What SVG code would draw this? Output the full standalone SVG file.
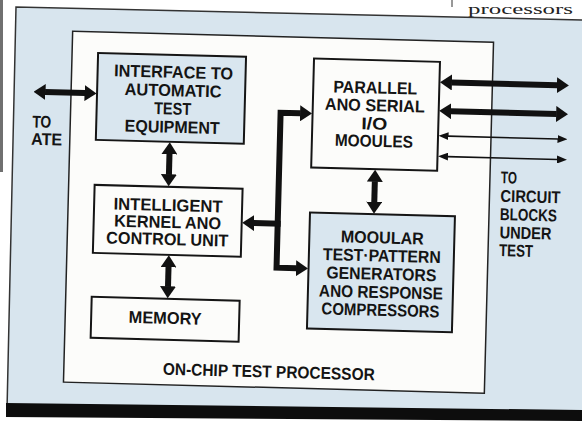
<svg xmlns="http://www.w3.org/2000/svg" width="582" height="425" viewBox="0 0 582 425">
<defs>
<style>
.t{font-family:"Liberation Sans",Arial,sans-serif;font-weight:bold;font-size:17px;fill:#141414;text-anchor:middle}
.tl{text-anchor:start}
.box{stroke:#151515;stroke-width:2}
.blue{fill:#d9e6ef}
.white{fill:#fcfcfa}
.w6{stroke:#111;stroke-width:6;fill:none;stroke-linejoin:miter}
.w2{stroke:#111;stroke-width:1.6;fill:none}
</style>
<marker id="ah" markerUnits="userSpaceOnUse" viewBox="0 0 12 16" markerWidth="12" markerHeight="16" refX="0.5" refY="8" orient="auto-start-reverse"><path d="M0,0 L12,8 L0,16 Z" fill="#111"/></marker>
<marker id="as" markerUnits="userSpaceOnUse" viewBox="0 0 10 8" markerWidth="10" markerHeight="8" refX="0.5" refY="4" orient="auto-start-reverse"><path d="M0,0 L10,4 L0,8 Z" fill="#111"/></marker>
</defs>
<rect x="0" y="0" width="582" height="425" fill="#ffffff"/>
<rect x="0" y="0" width="3" height="172" fill="#707070"/>
<line x1="452" y1="0" x2="452" y2="7" stroke="#333" stroke-width="1"/>
<text x="468" y="14" font-family="'Liberation Serif',serif" font-size="15" fill="#222" textLength="105" lengthAdjust="spacingAndGlyphs">processors</text>
<polygon points="16,7 582,20 582,412 7,406" fill="#d8e5ee"/>
<polyline points="7,410 16,7 582,20" fill="none" stroke="#333" stroke-width="1.5"/>
<polygon points="6,403 582,410 582,421 6,417" fill="#0d0d0d"/>
<g transform="rotate(1.5 290 212)">
<g id="processor">
<rect x="68" y="37" width="421" height="351" fill="#fcfcfa" stroke="#222" stroke-width="1.5"/>
<text class="t" x="273" y="378" textLength="212" lengthAdjust="spacingAndGlyphs">ON-CHIP TEST PROCESSOR</text>
</g>
<g id="interface">
<rect class="box blue" x="94" y="58" width="148" height="87"/>
<text class="t" x="170" y="81" textLength="119" lengthAdjust="spacingAndGlyphs">INTERFACE TO</text>
<text class="t" x="170" y="99.3" textLength="97" lengthAdjust="spacingAndGlyphs">AUTOMATIC</text>
<text class="t" x="170" y="117.6" textLength="37" lengthAdjust="spacingAndGlyphs">TEST</text>
<text class="t" x="170" y="135.9" textLength="95" lengthAdjust="spacingAndGlyphs">EQUIPMENT</text>
</g>
<g id="parallel">
<rect class="box white" x="310" y="58" width="126" height="109"/>
<text class="t" x="372" y="91.3" textLength="84" lengthAdjust="spacingAndGlyphs">PARALLEL</text>
<text class="t" x="372" y="109" textLength="100" lengthAdjust="spacingAndGlyphs">ANO SERIAL</text>
<text class="t" x="372" y="127.3" textLength="26" lengthAdjust="spacingAndGlyphs">I/O</text>
<text class="t" x="372" y="144.7" textLength="78" lengthAdjust="spacingAndGlyphs">MOOULES</text>
</g>
<g id="kernel">
<rect class="box white" x="94" y="190" width="148" height="68"/>
<text class="t" x="168" y="214.2" textLength="109" lengthAdjust="spacingAndGlyphs">INTELLIGENT</text>
<text class="t" x="168" y="231.2" textLength="107" lengthAdjust="spacingAndGlyphs">KERNEL ANO</text>
<text class="t" x="168" y="248.2" textLength="122" lengthAdjust="spacingAndGlyphs">CONTROL UNIT</text>
</g>
<g id="memory">
<rect class="box white" x="94" y="302" width="148" height="41"/>
<text class="t" x="168" y="327" textLength="73" lengthAdjust="spacingAndGlyphs">MEMORY</text>
</g>
<g id="modular">
<rect class="box blue" x="310" y="212" width="145" height="116"/>
<text class="t" x="383" y="241" textLength="83" lengthAdjust="spacingAndGlyphs">MOOULAR</text>
<text class="t" x="383" y="259.2" textLength="118" lengthAdjust="spacingAndGlyphs">TEST·PATTERN</text>
<text class="t" x="383" y="277.4" textLength="110" lengthAdjust="spacingAndGlyphs">GENERATORS</text>
<text class="t" x="383" y="295.6" textLength="124" lengthAdjust="spacingAndGlyphs">ANO RESPONSE</text>
<text class="t" x="383" y="313.5" textLength="118" lengthAdjust="spacingAndGlyphs">COMPRESSORS</text>
</g>
<g id="ate">
<text class="t tl" x="30" y="134.2" textLength="19" lengthAdjust="spacingAndGlyphs">TO</text>
<text class="t tl" x="29.4" y="151.5" textLength="31" lengthAdjust="spacingAndGlyphs">ATE</text>
</g>
<g id="circuit-blocks">
<text class="t tl" x="500" y="177.8" textLength="16" lengthAdjust="spacingAndGlyphs">TO</text>
<text class="t tl" x="500" y="196.2" textLength="60" lengthAdjust="spacingAndGlyphs">CIRCUIT</text>
<text class="t tl" x="500" y="214.5" textLength="57" lengthAdjust="spacingAndGlyphs">BLOCKS</text>
<text class="t tl" x="500" y="232.8" textLength="52" lengthAdjust="spacingAndGlyphs">UNDER</text>
<text class="t tl" x="500" y="250.5" textLength="34" lengthAdjust="spacingAndGlyphs">TEST</text>
</g>
<g id="connectors">
<path class="w6" d="M42,98.5 H82" marker-start="url(#ah)" marker-end="url(#ah)"/>
<path class="w6" d="M168,157 V178" marker-start="url(#ah)" marker-end="url(#ah)"/>
<path class="w6" d="M170,270 V290" marker-start="url(#ah)" marker-end="url(#ah)"/>
<path class="w6" d="M374,179 V200" marker-start="url(#ah)" marker-end="url(#ah)"/>
<path class="w6" d="M298,113 H278 V268 H298" marker-start="url(#ah)" marker-end="url(#ah)"/>
<path class="w6" d="M281,224 H254" marker-end="url(#ah)"/>
<path class="w6" d="M448,78.3 H554" marker-start="url(#ah)" marker-end="url(#ah)"/>
<path class="w6" d="M448,107 H554" marker-start="url(#ah)" marker-end="url(#ah)"/>
<path class="w2" d="M446,132 H556" marker-start="url(#as)" marker-end="url(#as)"/>
<path class="w2" d="M446,152.5 H556" marker-start="url(#as)" marker-end="url(#as)"/>
</g>
</g>
</svg>
